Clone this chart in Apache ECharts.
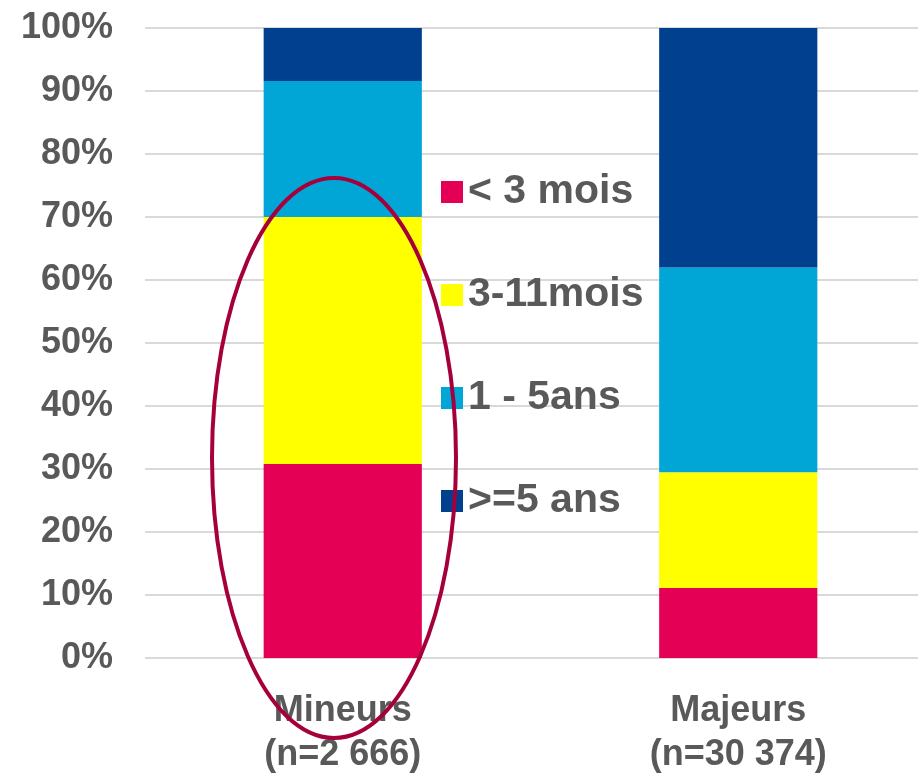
<!DOCTYPE html>
<html><head><meta charset="utf-8">
<script src="https://cdn.jsdelivr.net/npm/echarts@6/dist/echarts.min.js"></script>
<style>html,body{margin:0;padding:0;background:#fff}#c{width:918px;height:779px}</style>
</head><body><div id="c"></div>
<script>
const categories = ['Mineurs\n(n=2 666)', 'Majeurs\n(n=30 374)'];
const seriesNames = ['< 3 mois', '3-11mois', '1 - 5ans', '>=5 ans'];
const lt3mois = [30.8, 11.1];
const m3to11 = [39.2, 18.4];
const y1to5 = [21.6, 32.5];
const ge5 = [8.4, 38.0];
const yTicks = [0, 10, 20, 30, 40, 50, 60, 70, 80, 90, 100];
const colors = ['#E30055', '#FFFF00', '#02A6D6', '#00408F'];
const values = [lt3mois, m3to11, y1to5, ge5];

const chart = echarts.init(document.getElementById('c'));
chart.setOption({
  animation: false,
  grid: { left: 145, width: 791, top: 28, height: 630, containLabel: false, outerBoundsMode: 'none' },
  legend: {
    orient: 'vertical', left: 436, top: 166, itemGap: 61, itemWidth: 22, itemHeight: 22,
    icon: 'rect',
    data: seriesNames,
    textStyle: { fontFamily: "'Liberation Sans', Arial", fontWeight: 'bold', fontSize: 41, lineHeight: 42, color: '#595959', padding: [0, 0, 0, 0] }
  },
  xAxis: {
    type: 'category', data: categories,
    axisLine: { show: false }, axisTick: { show: false },
    axisLabel: { fontFamily: "'Liberation Sans', Arial", fontWeight: 'bold', fontSize: 36, color: '#595959', lineHeight: 44, margin: 31 }
  },
  yAxis: {
    type: 'value', min: 0, max: 100, interval: 10,
    axisLabel: { formatter: v => yTicks.includes(v) ? v + '%' : '', fontFamily: "'Liberation Sans', Arial", fontWeight: 'bold', fontSize: 36, color: '#595959', margin: 32 },
    splitLine: { lineStyle: { color: '#D9D9D9', width: 2 } },
    axisLine: { show: false }, axisTick: { show: false }
  },
  series: values.map((v, i) => ({
    name: seriesNames[i], type: 'bar', stack: 'total', barWidth: '40%',
    data: v, itemStyle: { color: colors[i] }
  })),
  graphic: [{
    type: 'ellipse', z: 100,
    shape: { cx: 334, cy: 458, rx: 122, ry: 280 },
    style: { fill: 'none', stroke: '#A5003C', lineWidth: 4 }
  }]
});
</script></body></html>
